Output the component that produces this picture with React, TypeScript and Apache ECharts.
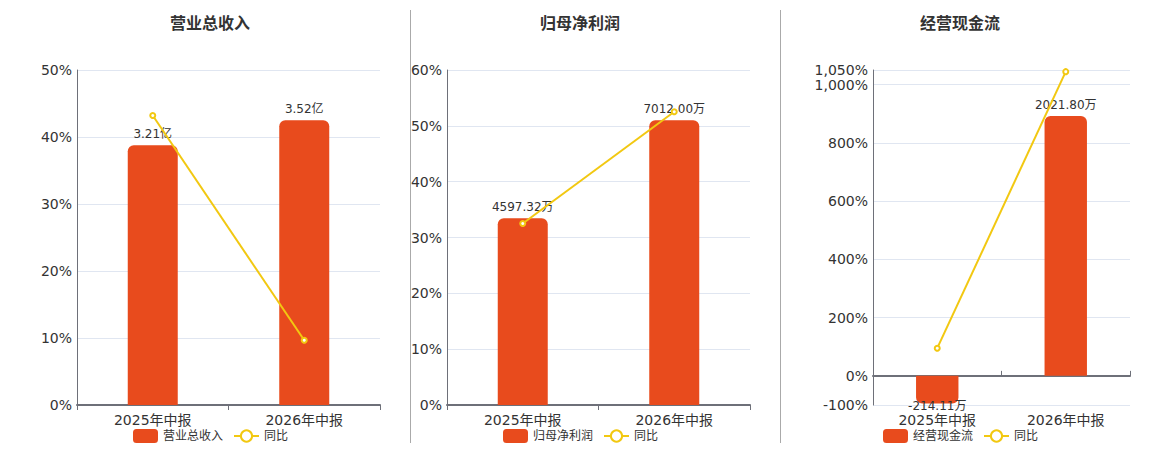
import React, { useEffect, useRef } from "react";
import * as echarts from "echarts";

// ---- data ----
const categories = ["2025年中报", "2026年中报"];
const titles = ["营业总收入", "归母净利润", "经营现金流"];
const units = ["亿", "万", "万"];
const yoyName = "同比";

const revenue = [3.21, 3.52]; // 亿
const revenueYoY = [43.2, 9.66]; // %
const netProfit = [4597.32, 7012.0]; // 万
const netProfitYoY = [32.5, 52.52]; // %
const cashFlow = [-214.11, 2021.8]; // 万
const cashFlowYoY = [95, 1044.3]; // %

const pctMin = [0, 0, -100];
const pctMax = [50, 60, 1050];
const pctInterval = [10, 10, undefined];

// ---- layout / style ----
const gridLeft = [77, 447, 873];
const gridWidth = [303, 303, 257];
const titleCenter = [210, 580, 960];
const legendLeft = [133, 503, 883];
const separatorsX = [410.5, 780.5];

const FONT = "DejaVu Sans, Noto Sans CJK SC, sans-serif";
const BAR_COLOR = "#E84B1D";
const LINE_COLOR = "#F2C811";
const AXIS_COLOR = "#6E7079";
const TEXT_COLOR = "#333";
const SPLIT_COLOR = "#E0E6F1";

function buildOption() {
  const barSets = [revenue, netProfit, cashFlow];
  const yoySets = [revenueYoY, netProfitYoY, cashFlowYoY];

  const grid: any[] = [];
  const xAxis: any[] = [];
  const yAxis: any[] = [];
  const series: any[] = [];
  const title: any[] = [];
  const legend: any[] = [];

  for (let i = 0; i < 3; i++) {
    grid.push({ left: gridLeft[i], top: 70, width: gridWidth[i], height: 335 });

    const bars = barSets[i];
    const barMax = Math.max(...bars) / 0.85;
    const barMin = (barMax * pctMin[i]) / pctMax[i];

    const hasNeg = pctMin[i] < 0;
    const labelAxisIndex = xAxis.length;
    xAxis.push({
      type: "category",
      gridIndex: i,
      data: categories,
      axisLine: hasNeg
        ? { show: false, onZero: false }
        : { show: true, onZero: false, lineStyle: { color: AXIS_COLOR, width: 2 } },
      axisTick: { show: !hasNeg, lineStyle: { color: AXIS_COLOR } },
      axisLabel: { fontSize: 14, color: TEXT_COLOR, margin: 8, fontFamily: FONT },
      splitLine: { show: false },
    });
    if (hasNeg) {
      xAxis.push({
        type: "category",
        gridIndex: i,
        data: categories,
        axisLine: { show: true, onZero: true, onZeroAxisIndex: 2 * i, lineStyle: { color: AXIS_COLOR, width: 2 } },
        axisTick: { show: true, lineStyle: { color: AXIS_COLOR } },
        axisLabel: { show: false },
        splitLine: { show: false },
      });
    }

    yAxis.push({
      type: "value",
      gridIndex: i,
      min: pctMin[i],
      max: pctMax[i],
      ...(pctInterval[i] !== undefined ? { interval: pctInterval[i] } : {}),
      axisLine: { show: true, lineStyle: { color: AXIS_COLOR, width: 1 } },
      axisTick: { show: false },
      axisLabel: { formatter: "{value}%", fontSize: 14, color: TEXT_COLOR, margin: 5, fontFamily: FONT },
      splitLine: { show: true, lineStyle: { color: SPLIT_COLOR } },
    });
    yAxis.push({
      type: "value",
      gridIndex: i,
      show: false,
      min: barMin,
      max: barMax,
      splitLine: { show: false },
    });

    const unit = units[i];
    series.push({
      type: "bar",
      name: titles[i],
      xAxisIndex: labelAxisIndex,
      yAxisIndex: 2 * i + 1,
      barWidth: "33%",
      itemStyle: { color: BAR_COLOR, borderRadius: [6, 6, 0, 0] },
      label: {
        show: true,
        position: "top",
        fontSize: 12,
        color: TEXT_COLOR,
        fontFamily: FONT,
        formatter: (p: any) => `${Number(p.value).toFixed(2)}${unit}`,
      },
      data: bars.map((v) =>
        v < 0
          ? {
              value: v,
              itemStyle: { borderRadius: [0, 0, 6, 6] },
              label: { position: "bottom", distance: -3 },
            }
          : v
      ),
      z: 2,
    });
    series.push({
      type: "line",
      name: yoyName,
      xAxisIndex: labelAxisIndex,
      yAxisIndex: 2 * i,
      symbol: "emptyCircle",
      symbolSize: 5,
      lineStyle: { color: LINE_COLOR, width: 2 },
      itemStyle: { color: LINE_COLOR },
      data: yoySets[i],
      z: 3,
    });

    title.push({
      text: titles[i],
      left: titleCenter[i],
      top: 15,
      padding: 0,
      textAlign: "center",
      textStyle: { fontSize: 16, fontWeight: "bold", color: TEXT_COLOR, fontFamily: FONT },
    });
    legend.push({
      data: [titles[i], yoyName],
      left: legendLeft[i],
      top: 429,
      padding: 0,
      itemGap: 10,
      itemWidth: 25,
      itemHeight: 14,
      textStyle: { fontSize: 12, color: TEXT_COLOR, fontFamily: FONT },
    });
  }

  const graphic = separatorsX.map((x) => ({
    type: "line",
    shape: { x1: x, y1: 10, x2: x, y2: 443 },
    style: { stroke: "#aaa", lineWidth: 1 },
    silent: true,
  }));

  return {
    animation: false,
    textStyle: { fontFamily: FONT },
    title,
    legend,
    grid,
    xAxis,
    yAxis,
    series,
    graphic,
  };
}

export default function App() {
  const ref = useRef<HTMLDivElement>(null);
  useEffect(() => {
    if (!ref.current) return;
    const chart = echarts.init(ref.current, null, { renderer: "svg" });
    chart.setOption(buildOption());
    return () => chart.dispose();
  }, []);
  return (
    <div
      ref={ref}
      style={{ position: "absolute", left: 0, top: 0, width: 1160, height: 450 }}
    />
  );
}
